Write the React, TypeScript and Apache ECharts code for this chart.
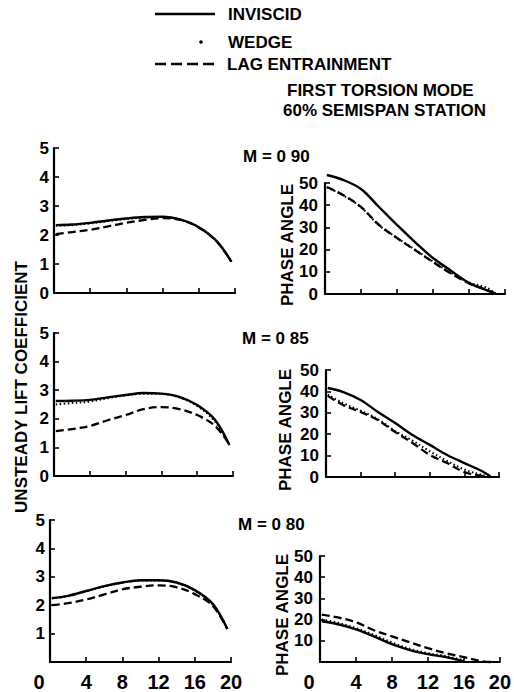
import React, { useEffect, useRef } from "react";
import * as echarts from "echarts";

const FONT = '"Liberation Sans", Arial, Helvetica, sans-serif';

// x positions (reduced frequency scale 0..20)
const liftX = [0.2, 2, 4, 6, 8, 10, 12, 14, 16, 18, 19.6];
const phaseX = [0.2, 2, 4, 6, 8, 10, 12, 14, 16, 18, 19.0];

// M = 0.90
const lift090Inviscid = [2.34, 2.36, 2.42, 2.5, 2.57, 2.62, 2.63, 2.53, 2.27, 1.78, 1.08];
const lift090Wedge = [2.32, 2.34, 2.4, 2.48, 2.55, 2.6, 2.62, 2.52, 2.26, 1.77, 1.08];
const lift090Lag = [2.03, 2.1, 2.18, 2.3, 2.42, 2.52, 2.58, 2.52, 2.26, 1.77, 1.08];
const phase090Inviscid = [53.6, 51.4, 47.3, 39.2, 31.1, 23.4, 16.2, 10.5, 5.0, 1.6, 0];
const phase090Wedge = [48.0, 44.5, 39.0, 31.0, 25.3, 20.0, 14.6, 9.5, 5.2, 2.8, 0];
const phase090Lag = [48.2, 44.6, 39.2, 31.1, 25.2, 19.8, 14.4, 9.2, 4.8, 1.8, 0];

// M = 0.85
const lift085Inviscid = [2.62, 2.63, 2.66, 2.75, 2.83, 2.9, 2.88, 2.77, 2.48, 1.96, 1.08];
const lift085Wedge = [2.5, 2.55, 2.6, 2.72, 2.82, 2.88, 2.87, 2.75, 2.45, 1.9, 1.08];
const lift085Lag = [1.57, 1.64, 1.75, 1.95, 2.13, 2.34, 2.41, 2.34, 2.13, 1.75, 1.1];
const phase085Inviscid = [41.6, 39.7, 36.0, 30.4, 25.2, 19.6, 15.0, 10.3, 6.5, 2.8, 0.3];
const phase085Wedge = [38.5, 34.5, 31.0, 27.0, 21.5, 17.0, 12.0, 7.5, 3.5, 1.0, 0];
const phase085Lag = [37.9, 33.6, 30.4, 26.6, 21.0, 15.9, 10.3, 6.5, 2.3, 0.5, 0];

// M = 0.80
const lift080Inviscid = [2.25, 2.33, 2.5, 2.67, 2.8, 2.88, 2.88, 2.8, 2.53, 2.04, 1.16];
const lift080Wedge = [2.24, 2.32, 2.49, 2.66, 2.79, 2.87, 2.87, 2.79, 2.52, 2.02, 1.16];
const lift080Lag = [2.0, 2.07, 2.2, 2.38, 2.56, 2.65, 2.7, 2.63, 2.39, 1.97, 1.16];
const phase080Inviscid = [19.2, 17.8, 15.4, 12.1, 8.4, 5.6, 3.7, 2.3, 0.3, null, null];
const phase080Wedge = [20.0, 18.5, 16.0, 12.8, 9.2, 6.2, 4.2, 2.8, 0.8, null, null];
const phase080Lag = [22.4, 21.0, 18.7, 15.0, 12.1, 9.3, 6.5, 4.2, 2.3, 0.4, 0];

const machLabels = ["M = 0 90", "M = 0 85", "M = 0 80"];
const legendNames = ["INVISCID", "WEDGE", "LAG ENTRAINMENT"];

function pairs(xs: number[], ys: (number | null)[]) {
  return xs.map((x, i) => [x, ys[i]]);
}

export default function App() {
  const ref = useRef<HTMLDivElement>(null);

  useEffect(() => {
    if (!ref.current) return;
    const chart = echarts.init(ref.current, undefined, { renderer: "svg" });

    const grids = [
      { left: 54, top: 148, width: 181, height: 145 },
      { left: 325, top: 183, width: 180, height: 111 },
      { left: 54, top: 333, width: 179, height: 143 },
      { left: 326, top: 370, width: 173, height: 107 },
      { left: 50, top: 520, width: 181, height: 143 },
      { left: 320, top: 556, width: 180, height: 107 },
    ];

    const axisLine = { show: true, onZero: false, lineStyle: { color: "#000", width: 2.2 } };
    const axisTick = { show: true, inside: true, length: 5, lineStyle: { color: "#000", width: 1.6 } };

    const xAxes = grids.map((_, i) => {
      const bottom = i >= 4;
      return {
        type: "value",
        gridIndex: i,
        min: 0,
        max: 20,
        interval: 4,
        axisLine,
        axisTick,
        splitLine: { show: false },
        axisLabel: {
          show: bottom,
          color: "#000",
          fontSize: 20,
          fontWeight: "bold",
          fontFamily: FONT,
          margin: 10,
          formatter: (v: number) => (v === 0 ? "{z|0}" : String(v)),
          rich: {
            z: { fontSize: 20, fontWeight: "bold", color: "#000", fontFamily: FONT, padding: [0, 22, 0, 0] },
          },
        },
      };
    });

    const yAxes = grids.map((_, i) => {
      const left = i % 2 === 0;
      const bottom = i >= 4;
      return {
        type: "value",
        gridIndex: i,
        min: 0,
        max: left ? 5 : 50,
        interval: left ? 1 : 10,
        axisLine,
        axisTick,
        splitLine: { show: false },
        axisLabel: {
          color: "#000",
          fontSize: 17,
          fontWeight: "bold",
          fontFamily: FONT,
          margin: left ? 5 : 7,
          formatter: (v: number) => (bottom && v === 0 ? "" : String(v)),
        },
      };
    });

    const panels = [
      [liftX, lift090Inviscid, lift090Wedge, lift090Lag],
      [phaseX, phase090Inviscid, phase090Wedge, phase090Lag],
      [liftX, lift085Inviscid, lift085Wedge, lift085Lag],
      [phaseX, phase085Inviscid, phase085Wedge, phase085Lag],
      [liftX, lift080Inviscid, lift080Wedge, lift080Lag],
      [phaseX, phase080Inviscid, phase080Wedge, phase080Lag],
    ] as any[];

    const series: any[] = [];
    panels.forEach((p, i) => {
      const [xs, inv, wedge, lag] = p;
      const base = {
        type: "line",
        xAxisIndex: i,
        yAxisIndex: i,
        showSymbol: false,
        symbol: "none",
        smooth: 0.35,
        clip: false,
        silent: true,
      };
      series.push({ ...base, name: legendNames[2], data: pairs(xs, lag), lineStyle: { color: "#000", width: 2.3, type: [8, 4] } });
      series.push({ ...base, name: legendNames[1], data: pairs(xs, wedge), lineStyle: { color: "#000", width: 2, type: [1.5, 2.5] } });
      series.push({ ...base, name: legendNames[0], data: pairs(xs, inv), lineStyle: { color: "#000", width: 2.4, type: "solid" } });
    });

    const txt = (text: string, x: number, y: number, size = 17, extra: any = {}) => ({
      type: "text",
      x,
      y,
      ...extra,
      style: {
        text,
        fill: "#000",
        font: `bold ${size}px ${FONT}`,
        textAlign: extra.align || "left",
        textVerticalAlign: "middle",
      },
    });

    const graphic: any[] = [
      { type: "line", shape: { x1: 155, y1: 14, x2: 215, y2: 14 }, style: { stroke: "#000", lineWidth: 2.4 } },
      { type: "circle", shape: { cx: 201, cy: 42, r: 1.8 }, style: { fill: "#000" } },
      { type: "line", shape: { x1: 155, y1: 64, x2: 215, y2: 64 }, style: { stroke: "#000", lineWidth: 2.6, lineDash: [11, 5] } },
      txt(legendNames[0], 228, 14),
      txt(legendNames[1], 228, 42),
      txt(legendNames[2], 227, 64),
      txt("FIRST TORSION MODE", 287, 90),
      txt("60% SEMISPAN STATION", 283, 110),
      txt(machLabels[0], 243, 156),
      txt(machLabels[1], 242, 338),
      txt(machLabels[2], 238, 524),
      txt("UNSTEADY LIFT COEFFICIENT", 21, 387, 17, { rotation: Math.PI / 2, align: "center" }),
      txt("PHASE ANGLE", 287, 245, 17, { rotation: Math.PI / 2, align: "center" }),
      txt("PHASE ANGLE", 285, 430, 17, { rotation: Math.PI / 2, align: "center" }),
      txt("PHASE ANGLE", 282, 615, 17, { rotation: Math.PI / 2, align: "center" }),
    ];

    chart.setOption({
      animation: false,
      backgroundColor: "#fff",
      grid: grids,
      xAxis: xAxes,
      yAxis: yAxes,
      series,
      graphic,
    });

    return () => chart.dispose();
  }, []);

  return (
    <div
      ref={ref}
      style={{ position: "fixed", left: 0, top: 0, width: 514, height: 692, background: "#fff" }}
    />
  );
}
